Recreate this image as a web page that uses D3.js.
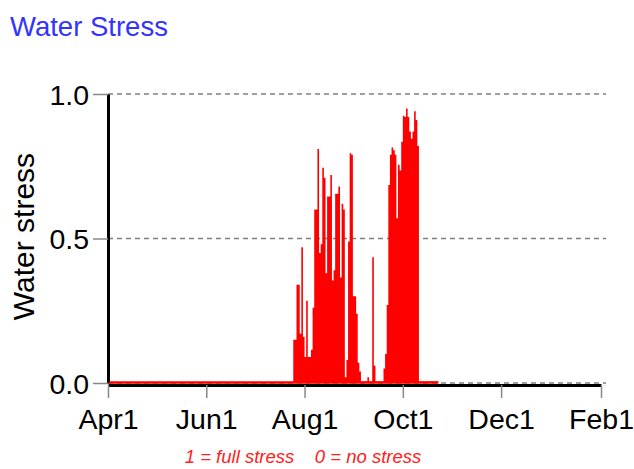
<!DOCTYPE html>
<html lang="en">
<head>
    <meta charset="UTF-8">
    <title>Water Stress</title>
    <script src="https://d3js.org/d3.v7.min.js"></script>
    <style type="text/css">
        body { margin: 0; background: #fff; }
        svg { font-family: "Liberation Sans", Arial, sans-serif; }
        .grid line {
            stroke: #808080;
            stroke-width: 1.5px;
            stroke-dasharray: 5, 4;
        }
        .axis text {
            font-size: 28.5px;
            fill: #000;
        }
        .axis .tick line {
            stroke: #888;
            stroke-width: 1.5px;
        }
        .axis path.domain {
            stroke: #000;
            stroke-width: 3px;
        }
        .stress-area { fill: #ff0000; stroke: none; }
        .stress-base { stroke: #ff0000; stroke-width: 2.5px; fill: none; }
        text.title { font-size: 27.5px; fill: #3333ff; }
        text.ylabel { font-size: 30px; fill: #000; }
        text.note { font-size: 18.5px; font-style: italic; fill: #ff2020; }
    </style>
</head>
<body>
    <script type="text/javascript">
        // season: Apr 1 to Feb 1
        const axisStart = new Date(2014, 3, 1);
        const axisEnd = new Date(2015, 1, 1);
        const seasonEnd = new Date(2014, 9, 23);     // last day the model ran
        const stressStart = new Date(2014, 6, 25);   // first day with stress

        // daily water stress from Jul 25 (before that: 0)
        const stressValues = [
            0.15, 0.15, 0.34, 0.34, 0.17, 0.47, 0.16, 0.09, 0.285, 0.09,
            0.09, 0.115, 0.26, 0.6, 0.6, 0.81, 0.45, 0.48, 0.745, 0.71,
            0.38, 0.645, 0.645, 0.72, 0.355, 0.39, 0.655, 0.655, 0.68, 0.365,
            0.62, 0.6, 0.02, 0.08, 0.49, 0.795, 0.79, 0.3, 0.3, 0.24,
            0.07, 0.04, 0.005, 0.005, 0.005, 0.005, 0.02, 0.005, 0.005, 0.435,
            0.06, 0.005, 0.005, 0.005, 0.005, 0.005, 0.05, 0.1, 0.27, 0.685,
            0.79, 0.815, 0.805, 0.79, 0.57, 0.755, 0.735, 0.835, 0.925, 0.92,
            0.95, 0.92, 0.87, 0.845, 0.87, 0.94, 0.91, 0.82, 0.005, 0.005,
            0.005, 0.005, 0.005, 0.005, 0.005, 0.005, 0.005, 0.005, 0.005, 0.005
        ];

        const yTicks = [0, 0.5, 1];
        const xTicks = [
            new Date(2014, 3, 1), new Date(2014, 5, 1), new Date(2014, 7, 1),
            new Date(2014, 9, 1), new Date(2014, 11, 1), new Date(2015, 1, 1)
        ];

        const width = 634;
        const height = 469;

        const svg = d3.select("body")
            .append("svg")
            .attr("width", width)
            .attr("height", height);

        const xScale = d3.scaleTime()
            .domain([axisStart, axisEnd])
            .range([108, 601]);

        const yScale = d3.scaleLinear()
            .domain([0, 1])
            .range([383, 94]);

        const data = stressValues.map((v, i) => ({
            date: d3.timeDay.offset(stressStart, i),
            value: v
        }));
        // close the last step
        data.push({ date: d3.timeDay.offset(stressStart, stressValues.length), value: 0 });

        // dashed grid
        svg.append("g")
            .attr("class", "grid")
            .selectAll("line")
            .data(yTicks)
            .join("line")
            .attr("x1", xScale(axisStart))
            .attr("x2", xScale(axisEnd) + 5)
            .attr("y1", d => yScale(d))
            .attr("y2", d => yScale(d));

        const xAxis = d3.axisBottom(xScale)
            .tickValues(xTicks)
            .tickFormat(d3.timeFormat("%b%-d"))
            .tickSize(13)
            .tickSizeOuter(0)
            .tickPadding(11);

        const yAxis = d3.axisLeft(yScale)
            .tickValues(yTicks)
            .tickFormat(d3.format(".1f"))
            .tickSize(15)
            .tickSizeOuter(0)
            .tickPadding(4);

        svg.append("g")
            .attr("class", "axis")
            .attr("transform", `translate(0,${yScale(0) + 2})`)
            .call(xAxis);

        svg.append("g")
            .attr("class", "axis")
            .attr("transform", `translate(${xScale(axisStart)},0)`)
            .call(yAxis)
            .selectAll(".tick text")
            .attr("dy", "0.36em");

        const area = d3.area()
            .x(d => xScale(d.date))
            .y0(yScale(0))
            .y1(d => yScale(d.value))
            .curve(d3.curveStepAfter);

        svg.append("path")
            .datum(data)
            .attr("class", "stress-area")
            .attr("d", area);

        svg.append("line")
            .attr("class", "stress-base")
            .attr("x1", xScale(axisStart) + 1)
            .attr("x2", xScale(seasonEnd))
            .attr("y1", yScale(0) - 0.5)
            .attr("y2", yScale(0) - 0.5);

        svg.append("text")
            .attr("class", "title")
            .attr("x", 10)
            .attr("y", 36)
            .text("Water Stress");

        svg.append("text")
            .attr("class", "ylabel")
            .attr("transform", `translate(34,${(yScale(0) + yScale(1)) / 2 - 2}) rotate(-90)`)
            .attr("text-anchor", "middle")
            .text("Water stress");

        svg.append("text")
            .attr("class", "note")
            .attr("x", 303)
            .attr("y", 463)
            .attr("text-anchor", "middle")
            .attr("xml:space", "preserve")
            .style("white-space", "pre")
            .text("1 = full stress    0 = no stress");
    </script>
</body>
</html>
